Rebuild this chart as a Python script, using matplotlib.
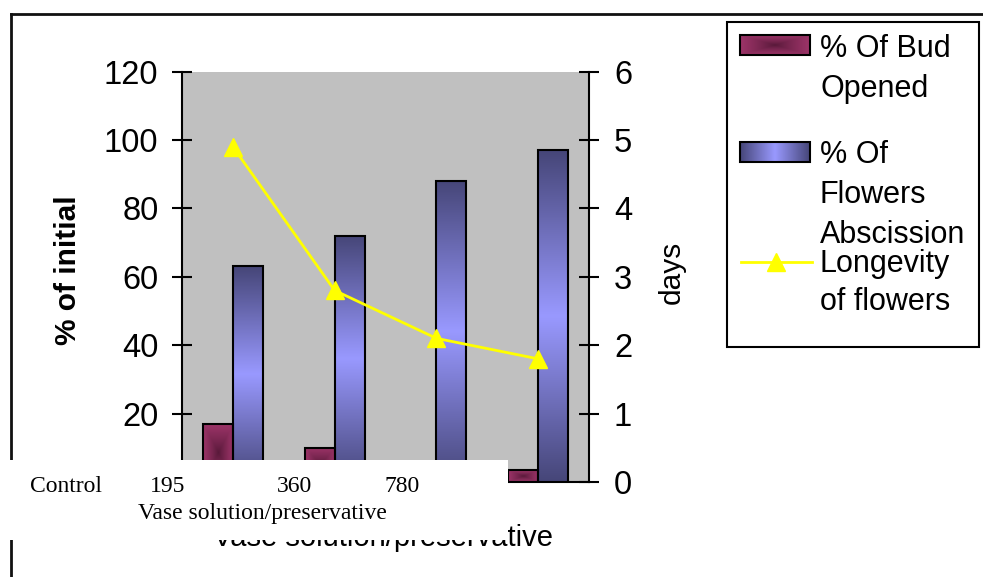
import numpy as np
import matplotlib
matplotlib.use('Agg')
import matplotlib.pyplot as plt
from matplotlib.patches import Rectangle
from matplotlib.colors import to_rgb

plt.rcParams['font.family'] = ['Liberation Sans', 'DejaVu Sans']

# ---- data ----
categories = ['Control', '195', '360', '780']
bud_opened = [17, 10, 0, 3.5]
abscission = [63, 72, 88, 97]
longevity = [4.9, 2.8, 2.1, 1.8]
left_ticks = [20, 40, 60, 80, 100, 120]
right_ticks = [0, 1, 2, 3, 4, 5, 6]
legend_labels = [['% Of Bud', 'Opened'],
                 ['% Of', 'Flowers', 'Abscission'],
                 ['Longevity', 'of flowers']]
y_label = '% of initial'
y2_label = 'days'
x_label = 'Vase solution/preservative'

W, H = 983, 577
fig = plt.figure(figsize=(W / 100, H / 100), dpi=100)

MAROON_L, MAROON_D = to_rgb('#9C3468'), to_rgb('#561838')
BLUE_L, BLUE_D = to_rgb('#9999FF'), to_rgb('#464678')
YELLOW = '#FFFF00'


def vert_grad(light, dark, n=200):
    t = np.abs(np.linspace(-1, 1, n))
    c = np.array(light)[None, :] * (1 - t[:, None]) + np.array(dark)[None, :] * t[:, None]
    return c[:, None, :]


def horiz_grad(light, dark, n=200):
    return np.transpose(vert_grad(light, dark, n), (1, 0, 2))


def rect_grad(light, dark, n=60):
    u = np.linspace(-1, 1, n)
    d = np.maximum(np.abs(u)[:, None], np.abs(u)[None, :])
    d = d ** 0.8
    return (np.array(dark)[None, None, :] * (1 - d[..., None]) +
            np.array(light)[None, None, :] * d[..., None])


# ---- main axes ----
ax = fig.add_axes([182 / W, 1 - 482 / H, 407 / W, 410.5 / H])
ax.set_facecolor('#C0C0C0')
x = np.arange(len(categories))
w = 0.295
bars1 = ax.bar(x - w / 2, bud_opened, w, facecolor='none', edgecolor='black',
               linewidth=1.5, zorder=4)
bars2 = ax.bar(x + w / 2, abscission, w, facecolor='none', edgecolor='black',
               linewidth=1.5, zorder=4)
for b in bars1:
    if b.get_height() <= 0:
        continue
    x0, y0 = b.get_x(), b.get_y()
    im = ax.imshow(rect_grad(MAROON_L, MAROON_D), extent=(x0, x0 + b.get_width(), y0, y0 + b.get_height()),
                   aspect='auto', origin='lower', interpolation='bilinear', zorder=3)
    im.set_clip_path(b)
for b in bars2:
    x0, y0 = b.get_x(), b.get_y()
    im = ax.imshow(vert_grad(BLUE_L, BLUE_D), extent=(x0, x0 + b.get_width(), y0, y0 + b.get_height()),
                   aspect='auto', origin='lower', interpolation='bilinear', zorder=3)
    im.set_clip_path(b)

ax.set_xlim(-0.5, 3.5)
ax.set_ylim(0, 120)
ax.set_yticks(left_ticks)
ax.set_xticks([])
for s in ['top', 'right']:
    ax.spines[s].set_visible(False)
for s in ['left', 'bottom']:
    ax.spines[s].set_linewidth(1.5)
    ax.spines[s].set_color('black')
ax.tick_params(axis='y', direction='inout', length=14, width=1.5, labelsize=23.5, pad=10)

ax2 = ax.twinx()
ax2.plot(x, longevity, color=YELLOW, lw=2, marker='^', ms=13, mfc=YELLOW, mec=YELLOW, zorder=5)
ax2.set_ylim(0, 6)
ax2.set_yticks(right_ticks)
for s in ['top', 'left', 'bottom']:
    ax2.spines[s].set_visible(False)
ax2.spines['right'].set_linewidth(1.5)
ax2.tick_params(axis='y', direction='inout', length=14, width=1.5, labelsize=23.5, pad=11)

# ---- overlay (figure pixel coords) ----
ov = fig.add_axes([0, 0, 1, 1])
ov.set_xlim(0, W)
ov.set_ylim(H, 0)
ov.axis('off')

ov.plot([11, 11], [14, H], color='#111111', lw=2, zorder=0.5, clip_on=False)
ov.plot([11, W], [14, 14], color='#111111', lw=2, zorder=0.5, clip_on=False)

ov.text(68, 270, y_label, rotation=90, ha='center', va='center', fontsize=21.5, fontweight='bold')
ov.text(672, 272, y2_label, rotation=90, ha='center', va='center', fontsize=21.5)

ov.text(383, 546, x_label, ha='center', va='baseline', fontsize=21, zorder=1)
ov.add_patch(Rectangle((0, 460), 508, 80, facecolor='white', edgecolor='none', zorder=2))
for lbl, px in zip(categories, [30, 150, 277, 384]):
    ov.text(px, 492, lbl, ha='left', va='baseline', fontsize=17, family='Liberation Serif', zorder=3)
ov.text(137.5, 519, x_label, ha='left', va='baseline', fontsize=17, family='Liberation Serif', zorder=3)

# legend
ov.add_patch(Rectangle((727, 22), 252, 325, facecolor='white', edgecolor='black', lw=1.5, zorder=2))
ov.imshow(rect_grad(MAROON_L, MAROON_D), extent=(740, 810, 55, 35), aspect='auto',
          interpolation='bilinear', zorder=3)
ov.add_patch(Rectangle((740, 35), 70, 20, facecolor='none', edgecolor='black', lw=1.5, zorder=4))
ov.imshow(horiz_grad(BLUE_L, BLUE_D), extent=(740, 810, 162, 142), aspect='auto',
          interpolation='bilinear', zorder=3)
ov.add_patch(Rectangle((740, 142), 70, 20, facecolor='none', edgecolor='black', lw=1.5, zorder=4))
ov.plot([741, 812], [262, 262], color=YELLOW, lw=2, zorder=4)
ov.plot([776], [262], marker='^', ms=13, color=YELLOW, zorder=5)
baselines = [[57, 97], [163, 203, 243], [272, 310]]
for lines, ys in zip(legend_labels, baselines):
    for t, yy in zip(lines, ys):
        ov.text(820, yy, t, ha='left', va='baseline', fontsize=22, zorder=5)
ov.set_xlim(0, W)
ov.set_ylim(H, 0)

fig.savefig('out.png', dpi=100)
